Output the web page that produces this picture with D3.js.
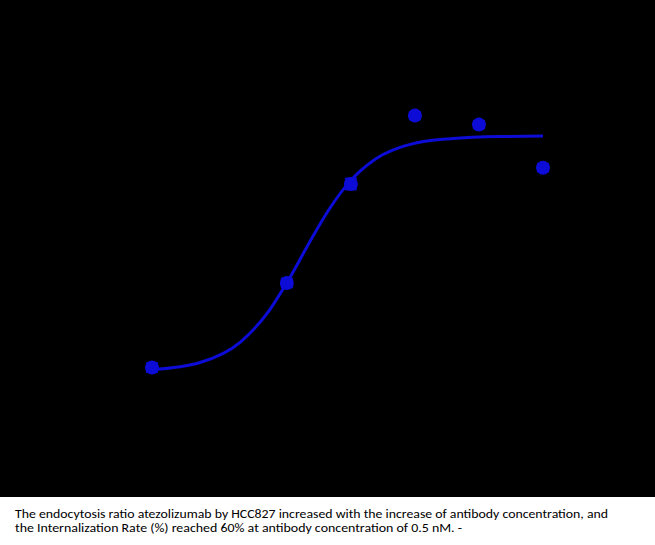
<!DOCTYPE html>
<html>
<head>
<meta charset="utf-8">
<script src="https://cdn.jsdelivr.net/npm/d3@7"></script>
<style>
  html, body { margin: 0; padding: 0; background: #000; }
  svg { display: block; }
</style>
</head>
<body>
<svg id="chart" width="655" height="545"></svg>
<script>
// Antibody concentration (nM) and internalization rate (%)
const concentrations = [0.0027, 0.08, 0.4, 2, 10, 50];
const rates = [9, 32.5, 60, 79, 76.5, 64.5];
const errors = [1.2, 1.2, 1.5, 1.0, 1.0, 1.0];

// Fitted curve
const fitConc = [0.0027, 0.00903, 0.0247, 0.0525, 0.0868, 0.1436, 0.2375, 0.3926, 0.7366, 1.776, 4.857, 17.08, 50];
const fitRate = [8.4, 10.4, 16.0, 25.2, 34.1, 44.1, 53.4, 60.8, 66.9, 71.0, 72.6, 73.2, 73.3];

const captionLines = [
  "The endocytosis ratio atezolizumab by HCC827 increased with the increase of antibody concentration, and",
  "the Internalization Rate (%) reached 60% at antibody concentration of 0.5 nM. -"
];

const svg = d3.select("#chart");
const W = 655, H = 545;
const blue = "#0c0cd6";

svg.append("rect").attr("x", 0).attr("y", 0).attr("width", W).attr("height", 497).attr("fill", "#000");
svg.append("rect").attr("x", 0).attr("y", 497).attr("width", W).attr("height", H - 497).attr("fill", "#fff");

const x = d3.scaleLog().domain([0.0027, 50]).range([152, 543]);
const y = d3.scaleLinear().domain([0, 100]).range([400, 40]);

const line = d3.line()
  .x((d, i) => x(fitConc[i]))
  .y((d, i) => y(fitRate[i]))
  .curve(d3.curveMonotoneX);

svg.append("path")
  .datum(fitConc)
  .attr("d", line)
  .attr("fill", "none")
  .attr("stroke", blue)
  .attr("stroke-width", 3);

const pts = concentrations.map((c, i) => ({c, v: rates[i], e: errors[i]}));

const eb = svg.append("g").attr("stroke", blue).attr("stroke-width", 2);
pts.forEach(d => {
  eb.append("line").attr("x1", x(d.c)).attr("x2", x(d.c)).attr("y1", y(d.v + d.e)).attr("y2", y(d.v - d.e));
  eb.append("line").attr("x1", x(d.c) - 6).attr("x2", x(d.c) + 6).attr("y1", y(d.v + d.e)).attr("y2", y(d.v + d.e));
  eb.append("line").attr("x1", x(d.c) - 6).attr("x2", x(d.c) + 6).attr("y1", y(d.v - d.e)).attr("y2", y(d.v - d.e));
});

svg.append("g").selectAll("circle")
  .data(pts)
  .join("circle")
  .attr("cx", d => x(d.c))
  .attr("cy", d => y(d.v))
  .attr("r", 7)
  .attr("fill", blue);

const cap = svg.append("g")
  .attr("font-family", "Carlito, 'Liberation Sans Narrow', 'Liberation Sans', Arial, sans-serif")
  .attr("font-size", 12)
  .attr("fill", "#000");
const lens = [593, 447];
captionLines.forEach((t, i) => {
  cap.append("text")
    .attr("x", 15)
    .attr("y", 518 + i * 14)
    .attr("textLength", lens[i])
    .attr("lengthAdjust", "spacingAndGlyphs")
    .text(t);
});
</script>
</body>
</html>
